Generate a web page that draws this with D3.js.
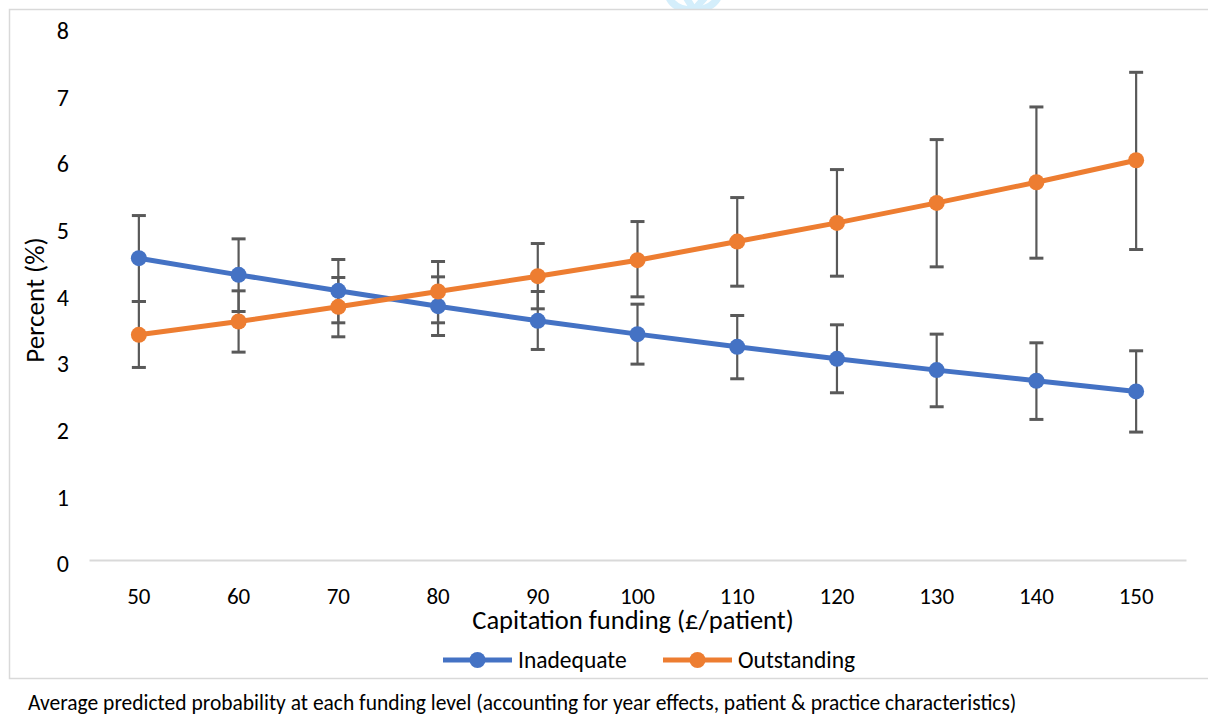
<!DOCTYPE html>
<html>
    <head>
        <meta charset="utf-8" />
        <script src="https://d3js.org/d3.v7.min.js"></script>
        <style type="text/css">
            body {
                margin: 0;
                background: #fff;
            }
            svg#mainSvg {
                width: 1208px;
                height: 720px;
                display: block;
                font-family: Calibri, Carlito, "Open Sans", sans-serif;
            }
            .errbar {
                stroke: #595959;
                stroke-width: 2.2;
                fill: none;
            }
        </style>
    </head>

    <body>
        <svg id="mainSvg"></svg>

        <script type="text/javascript">
            // Data
            const funding = [50, 60, 70, 80, 90, 100, 110, 120, 130, 140, 150];
            const inadequate = [4.53, 4.28, 4.04, 3.81, 3.59, 3.39, 3.2, 3.02, 2.85, 2.69, 2.53];
            const inadequateLow = [3.88, 3.73, 3.56, 3.37, 3.16, 2.94, 2.72, 2.51, 2.3, 2.11, 1.92];
            const inadequateHigh = [5.17, 4.82, 4.51, 4.25, 4.03, 3.84, 3.67, 3.53, 3.39, 3.26, 3.14];
            const outstanding = [3.38, 3.58, 3.8, 4.03, 4.26, 4.5, 4.78, 5.06, 5.36, 5.67, 6.0];
            const outstandingLow = [2.89, 3.12, 3.35, 3.56, 3.77, 3.95, 4.11, 4.26, 4.4, 4.53, 4.66];
            const outstandingHigh = [3.88, 4.04, 4.24, 4.48, 4.75, 5.08, 5.44, 5.86, 6.31, 6.8, 7.32];
            const yTicks = [0, 1, 2, 3, 4, 5, 6, 7, 8];
            const seriesNames = ["Inadequate", "Outstanding"];
            const seriesColors = ["#4472C4", "#ED7D31"];
        </script>

        <script type="text/javascript">
            const svg = d3.select("#mainSvg");
            const font = "Calibri, Carlito, 'Open Sans', sans-serif";

            // faint watermark peeking above the frame
            const wm = svg.append("g").attr("stroke", "#d4eefb").attr("stroke-width", 7).attr("fill", "none");
            wm.append("path").attr("d", "M666,-14 Q668,10 693,10 Q718,10 722,-14");
            wm.append("path").attr("d", "M684,-6 L694,10 L708,-6");
            svg.append("rect").attr("x", 0).attr("y", 10).attr("width", 1208).attr("height", 720).attr("fill", "#fff");

            // chart frame
            svg.append("rect")
                .attr("x", 9.5)
                .attr("y", 9.5)
                .attr("width", 1210)
                .attr("height", 669)
                .attr("fill", "none")
                .attr("stroke", "#d9d9d9")
                .attr("stroke-width", 1.5);

            const x = d3.scaleBand().domain(funding).range([89, 1186]);
            const y = d3.scaleLinear().domain([0, 8]).range([560, 27]);
            const cx = (d) => x(d) + x.bandwidth() / 2;

            // y axis (labels only)
            const yAxis = svg.append("g")
                .attr("transform", "translate(69,4)")
                .call(d3.axisLeft(y).tickValues(yTicks).tickSize(0).tickPadding(0));
            yAxis.select(".domain").remove();
            yAxis.selectAll("text")
                .attr("font-family", font)
                .attr("font-size", 24)
                .attr("fill", "#000");

            // x axis
            const xAxis = svg.append("g")
                .attr("transform", "translate(0,560)")
                .call(d3.axisBottom(x).tickSize(0).tickPadding(28));
            xAxis.select(".domain").attr("stroke", "#d9d9d9").attr("stroke-width", 2);
            xAxis.selectAll("text")
                .attr("font-family", font)
                .attr("font-size", 23)
                .attr("fill", "#000");

            // axis titles
            svg.append("text")
                .attr("transform", "translate(44,300) rotate(-90)")
                .attr("text-anchor", "middle")
                .attr("font-size", 27)
                .text("Percent (%)");
            svg.append("text")
                .attr("x", 633)
                .attr("y", 629)
                .attr("text-anchor", "middle")
                .attr("font-size", 26.5)
                .text("Capitation funding (£/patient)");

            // series
            const series = [
                { name: seriesNames[0], color: seriesColors[0], v: inadequate, lo: inadequateLow, hi: inadequateHigh },
                { name: seriesNames[1], color: seriesColors[1], v: outstanding, lo: outstandingLow, hi: outstandingHigh },
            ];

            // error bars
            series.forEach((s) => {
                const g = svg.append("g").attr("class", "errbar");
                funding.forEach((f, i) => {
                    const px = cx(f);
                    g.append("line").attr("x1", px).attr("x2", px).attr("y1", y(s.hi[i])).attr("y2", y(s.lo[i]));
                    g.append("line").attr("x1", px - 7).attr("x2", px + 7).attr("y1", y(s.hi[i])).attr("y2", y(s.hi[i])).attr("stroke-width", 3);
                    g.append("line").attr("x1", px - 7).attr("x2", px + 7).attr("y1", y(s.lo[i])).attr("y2", y(s.lo[i])).attr("stroke-width", 3);
                });
            });

            const line = d3.line().x((d) => cx(d[0])).y((d) => y(d[1]));
            series.forEach((s) => {
                const pts = funding.map((f, i) => [f, s.v[i]]);
                svg.append("path")
                    .datum(pts)
                    .attr("d", line)
                    .attr("fill", "none")
                    .attr("stroke", s.color)
                    .attr("stroke-width", 5)
                    .attr("stroke-linejoin", "round");
                svg.append("g")
                    .selectAll("circle")
                    .data(pts)
                    .enter()
                    .append("circle")
                    .attr("cx", (d) => cx(d[0]))
                    .attr("cy", (d) => y(d[1]))
                    .attr("r", 8)
                    .attr("fill", s.color);
            });

            // legend
            const legendX = [443, 663];
            series.forEach((s, i) => {
                const lg = svg.append("g").attr("transform", "translate(" + legendX[i] + ",660)");
                lg.append("line").attr("x1", 0).attr("x2", 69).attr("stroke", s.color).attr("stroke-width", 5);
                lg.append("circle").attr("cx", 34.5).attr("r", 8).attr("fill", s.color);
                lg.append("text").attr("x", 75).attr("y", 8).attr("font-size", 23.5).text(s.name);
            });

            // caption
            svg.append("text")
                .attr("x", 28)
                .attr("y", 710)
                .attr("font-size", 21.5)
                .text("Average predicted probability at each funding level (accounting for year effects, patient & practice characteristics)");
        </script>
    </body>
</html>
